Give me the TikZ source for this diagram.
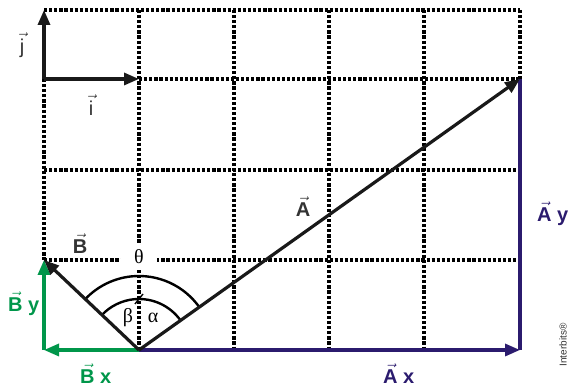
\documentclass[tikz,border=0pt]{standalone}
\usepackage{fontspec}
\setmainfont{Liberation Sans}
\newfontfamily\greekfont{Liberation Serif}
\usetikzlibrary{arrows.meta,calc}
\definecolor{vblue}{HTML}{2B1B6E}
\definecolor{vgreen}{HTML}{00964A}
\definecolor{vgray}{HTML}{333333}
\newcommand\vlab[1]{$\vec{\mbox{#1}}$}
\tikzset{
  gridline/.style={line width=3.4pt, dash pattern=on 3.2pt off 1.9pt, black},
  vecline/.style={line width=3.2pt, -{Triangle[length=15pt,width=12pt]}},
  lab/.style={font=\fontsize{20}{22}\selectfont\bfseries, text=vgray, inner sep=0pt},
  ulab/.style={font=\fontsize{20}{22}\selectfont, text=vgray, inner sep=0pt},
  glab/.style={font=\greekfont\fontsize{20}{22}\selectfont, inner sep=0pt},
  arcline/.style={line width=2.4pt, black},
}
\begin{document}
\begin{tikzpicture}[x=1pt,y=1pt]
\useasboundingbox (0,0) rectangle (568,387);
% key points
\coordinate (O) at (139,37);
\coordinate (Atip) at (520,308);
\coordinate (Btip) at (44,127);
\coordinate (Bxe) at (44,37);
\coordinate (Axe) at (520,37);
\coordinate (Ori) at (44,308);
\coordinate (itip) at (139,308);
\coordinate (jtip) at (44,377);
% grid
\draw[gridline] (44,377) -- (520,377);
\draw[gridline] (139,308) -- (520,308);
\draw[gridline] (44,217) -- (520,217);
\draw[gridline] (44,127) -- (520,127);
\foreach \x in {139,234,329,424} \draw[gridline] (\x,377) -- (\x,37);
\draw[gridline] (44,308) -- (44,127);
\draw[gridline] (520,377) -- (520,308);
% theta label with white background
\node[glab, fill=white, minimum width=36pt, minimum height=24pt] (th) at (139,130) {θ};
% components
\draw[line width=3.2pt, vblue] (Axe) -- (Atip);
\draw[vecline, vblue] (O) -- (Axe);
\draw[vecline, vgreen] (O) -- (Bxe);
\draw[vecline, vgreen] (Bxe) -- (Btip);
% angle arcs
\draw[arcline] ($(O)+(35.43:74)$) arc[start angle=35.43, end angle=136.5, radius=74];
\draw[arcline] ($(O)+(35.43:51)$) arc[start angle=35.43, end angle=136.5, radius=51];
\draw[line width=1.4pt] (135,83) -- (143,93);
% main vectors
\draw[vecline, black!90] (O) -- (Atip);
\draw[vecline, black!90] (O) -- (Btip);
\draw[vecline, black!90] (Ori) -- (itip);
\draw[vecline, black!90] (Ori) -- (jtip);
% labels
\node[ulab] (lj) at (22,342) {\vlab{j}};
\node[ulab] (li) at (91,282) {\vlab{i}};
\node[lab] (lA) at (303,180) {\vlab{A}};
\node[lab] (lB) at (80,143) {\vlab{B}};
\node[lab, text=vblue, anchor=west] (lAy) at (537,173) {\vlab{A} y};
\node[lab, text=vgreen, anchor=west] (lBy) at (8,83) {\vlab{B} y};
\node[lab, text=vgreen, anchor=west] (lBx) at (80,13) {\vlab{B} x};
\node[lab, text=vblue, anchor=west] (lAx) at (383,13) {\vlab{A} x};
\node[glab] (lb) at (128,69) {β};
\node[glab] (la) at (153,69) {α};
\node[font=\fontsize{10}{11}\selectfont, rotate=90, text=vgray, inner sep=0pt] (ib) at (563,42) {Interbits®};
\end{tikzpicture}
\end{document}
